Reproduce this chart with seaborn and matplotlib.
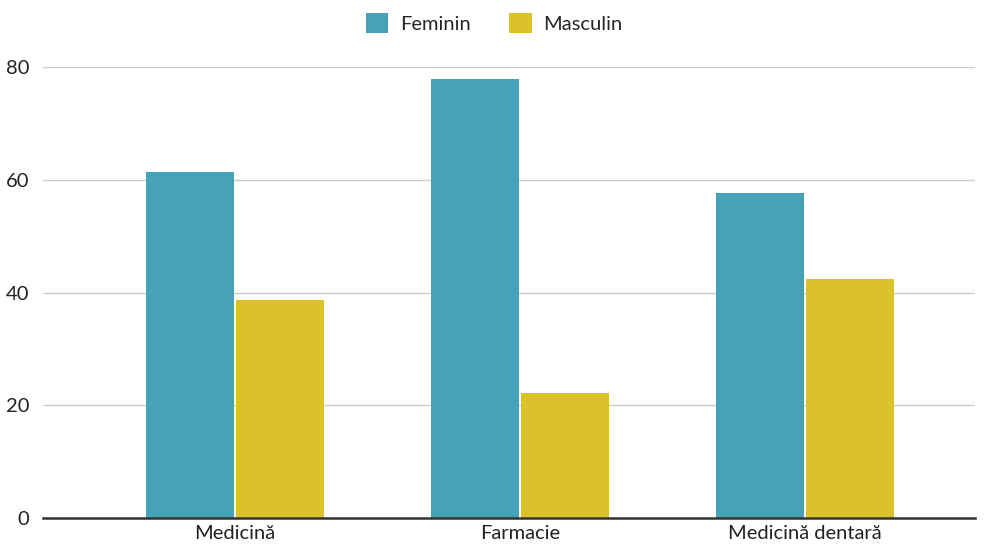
import matplotlib
matplotlib.use("Agg")
import matplotlib.pyplot as plt
import seaborn as sns
import pandas as pd

categories = ["Medicină", "Farmacie", "Medicină dentară"]
feminin = [61.3, 77.9, 57.6]
masculin = [38.7, 22.1, 42.4]
series_names = ["Feminin", "Masculin"]
colors = ["#46A3B7", "#DCC22A"]

df = pd.DataFrame({
    "Facultate": categories * 2,
    "Procent": feminin + masculin,
    "Gen": [series_names[0]] * 3 + [series_names[1]] * 3,
})

sns.set_theme(style="white")
plt.rcParams["font.family"] = ["Lato", "DejaVu Sans"]

fig = plt.figure(figsize=(9.89, 5.48), dpi=100)
ax = fig.add_axes([0.0435, 0.0547, 0.9423, 0.823])

sns.barplot(data=df, x="Facultate", y="Procent", hue="Gen",
            palette=colors, saturation=1, width=0.632, gap=0.03, ax=ax,
            linewidth=0, legend=True)

ax.set_ylim(0, 80)
ax.set_xlim(-0.674, 2.596)
ax.set_yticks([0, 20, 40, 60, 80])
ax.grid(axis="y", color="#CCCCCC", linewidth=1)
ax.set_axisbelow(True)
for s in ["top", "right", "left"]:
    ax.spines[s].set_visible(False)
ax.spines["bottom"].set_color("#333333")
ax.spines["bottom"].set_linewidth(1.8)
ax.spines["bottom"].set_zorder(5)
ax.set_xlabel("")
ax.set_ylabel("")
ax.tick_params(axis="both", length=0, labelsize=14.5, colors="#222222")
ax.tick_params(axis="x", pad=5)
ax.tick_params(axis="y", pad=10)

handles, labels = ax.get_legend_handles_labels()
ax.get_legend().remove()
fig.legend(handles, labels, loc="center", bbox_to_anchor=(0.5, 1 - 23 / 548),
           ncol=2, frameon=False, fontsize=14.5, handlelength=1.1, handleheight=1.1,
           columnspacing=1.9, handletextpad=0.6)

fig.savefig("out.png", dpi=100)
